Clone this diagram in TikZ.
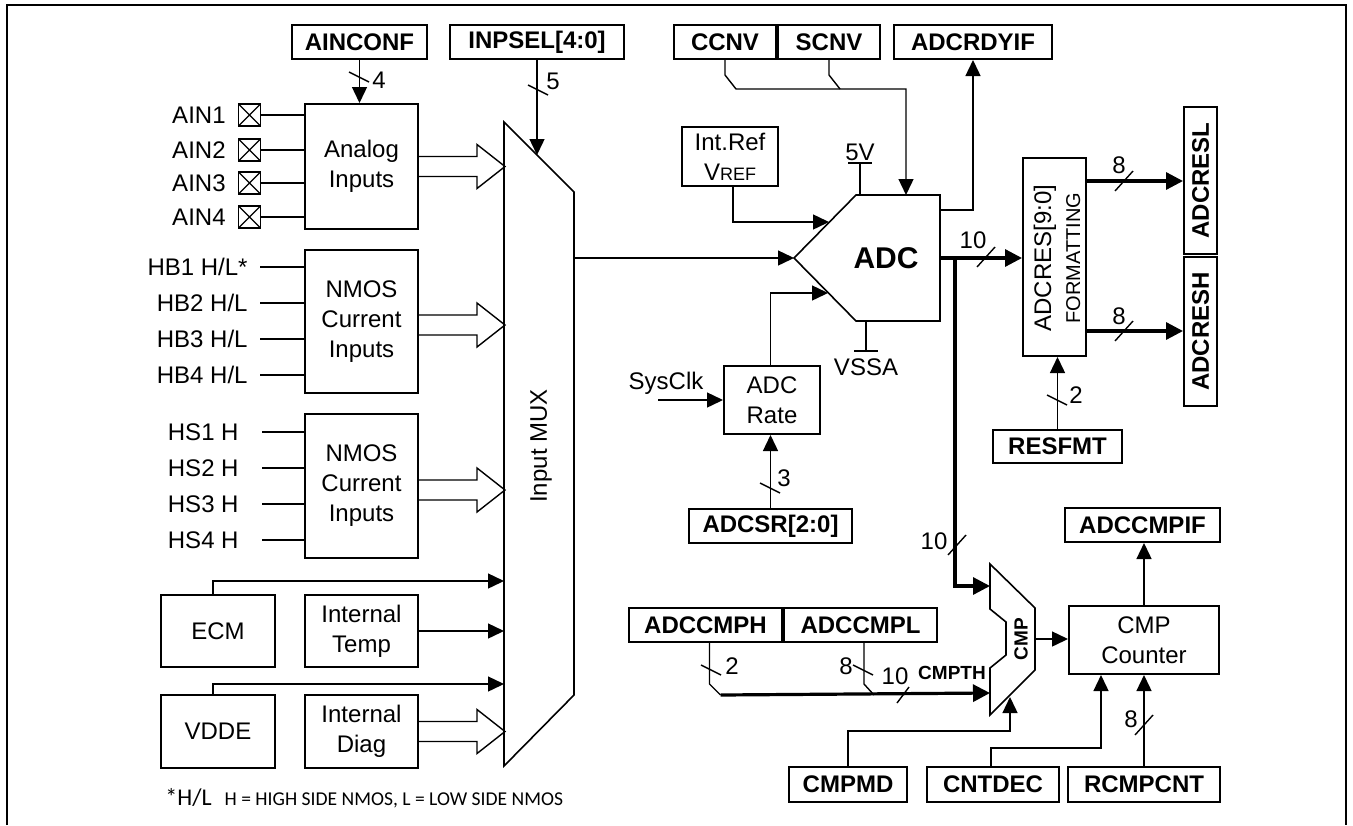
\documentclass[tikz,border=0pt]{standalone}
\usepackage{fontspec}
\setmainfont{Liberation Sans}
\newfontfamily\notefont{Carlito}
\usepackage{tikz}
\usetikzlibrary{arrows.meta, positioning, calc}

% hollow bus arrow from a block into the mux
\newcommand{\widearrow}[2]{%
  \draw[wire] ($(#1.east)+(0,#2-10)$) -- ++(58,0) -- ++(0,-12)
    -- ($(#1.east)+(86,#2)$) -- ++(-28,22) -- ++(0,-12) -- ($(#1.east)+(0,#2+10)$);}
% bus width marks
\newcommand{\busback}[1]{\draw[wire] ($#1+(-10,-5)$) -- ($#1+(10,5)$);}
\newcommand{\busfwd}[1]{\draw[wire] ($#1+(-9,10)$) -- ($#1+(9,-10)$);}

\begin{document}
\begin{tikzpicture}[x=0.5pt, y=-0.5pt,
    wire/.style={line width=0.7pt},
    bus/.style={line width=1.6pt},
    arrow/.style={wire, -{Triangle[length=8pt, width=7.5pt]}},
    busarrow/.style={bus, -{Triangle[length=8.5pt, width=8.5pt]}},
    block/.style={draw, line width=1pt, inner sep=0pt, align=center, font=\fontsize{12}{15}\selectfont},
    reg/.style={block, minimum height=17pt, font=\fontsize{12}{14}\selectfont\bfseries},
    lbl/.style={inner sep=0pt, font=\fontsize{12}{14}\selectfont},
    pin/.style={draw, line width=0.8pt, minimum size=11pt, inner sep=0pt,
        path picture={\draw[line width=0.6pt] (path picture bounding box.north west) -- (path picture bounding box.south east)
            (path picture bounding box.south west) -- (path picture bounding box.north east);}}
]
    \useasboundingbox (0,0) rectangle (1353,825);
    % Frame
    \draw[line width=1.2pt] (7,825) -- (7,5) -- (1346,5) -- (1346,825);

    % Registers on top
    \node[reg, minimum width=67.5pt] (ainconf) at (359.5,42) {AINCONF};
    \node[reg, minimum width=87pt] (inpsel) at (537,42) {INPSEL[4:0]};
    \node[reg, minimum width=51pt] (ccnv) at (725,42) {CCNV};
    \node[reg, minimum width=51pt, right=0pt of ccnv] (scnv) {SCNV};
    \node[reg, minimum width=79pt] (rdyif) at (973,42) {ADCRDYIF};

    % Input blocks
    \node[block, minimum width=56.5pt, minimum height=62.5pt] (ana) at (361.5,166.5) {Analog\\Inputs};
    \node[block, minimum width=56.5pt, minimum height=71.5pt] (nmb) at (361.5,321.5) {NMOS\\Current\\Inputs};
    \node[block, minimum width=56.5pt, minimum height=72pt] (nms) at (361.5,486) {NMOS\\Current\\Inputs};
    \node[block, minimum width=57pt, minimum height=36pt] (ecm) at (218,631) {ECM};
    \node[block, minimum width=56.5pt, minimum height=36pt] (temp) at (361.5,631) {Internal\\Temp};
    \node[block, minimum width=57pt, minimum height=36.5pt] (vdde) at (218,731.5) {VDDE};
    \node[block, minimum width=56.5pt, minimum height=36.5pt] (diag) at (361.5,731.5) {Internal\\Diag};

    % Pins and input lines
    \foreach \i/\y in {1/115, 2/150, 3/183, 4/217} {
        \node[lbl, anchor=east] (ainl\i) at (226,\y) {AIN\i};
        \node[pin] (ain\i) at (249.5,\y) {};
        \draw[wire] (ain\i.east) -- (ain\i -| ana.west);
    }
    \foreach \i/\y in {1/267, 2/303, 3/339, 4/375} {
        \node[lbl, anchor=east] (hbl\i) at (248,\y) {HB\i\ H/L\ifnum\i=1 *\fi};
        \coordinate (hb\i) at (260,\y);
        \draw[wire] (hb\i) -- (hb\i -| nmb.west);
    }
    \foreach \i/\y in {1/432, 2/468, 3/504, 4/540} {
        \node[lbl, anchor=east] (hsl\i) at (239,\y) {HS\i\ H};
        \coordinate (hs\i) at (262,\y);
        \draw[wire] (hs\i) -- (hs\i -| nms.west);
    }

    % Input MUX
    \coordinate (mux-nw) at (504,122);
    \coordinate (mux-ne) at (574,192);
    \coordinate (mux-se) at (574,695);
    \coordinate (mux-sw) at (504,766);
    \draw[line width=0.8pt] (mux-nw) -- (mux-ne) -- (mux-se) -- (mux-sw) -- cycle;
    \node[lbl, rotate=90] (muxlbl) at (541,446) {Input MUX};

    \widearrow{ana}{0}
    \widearrow{nmb}{3.5}
    \widearrow{nms}{4}
    \widearrow{diag}{0}

    \coordinate (ecm-in) at (504,581);
    \coordinate (vdde-in) at (504,684);
    \draw[arrow] ([xshift=-2.5pt]ecm.north) |- (ecm-in);
    \draw[arrow] (temp.east) -- (temp.east -| mux-nw);
    \draw[arrow] ([xshift=-2.5pt]vdde.north) |- (vdde-in);

    \draw[arrow] (ainconf.south) -- (ainconf.south |- ana.north);
    \busback{(359,77)}
    \node[lbl] (n4) at (379,80) {4};
    \coordinate (sel-in) at (537,155);
    \draw[arrow] (inpsel.south) -- (sel-in);
    \busback{(538,90)}
    \node[lbl] (n5) at (553,81) {5};

    % ADC
    \coordinate (adc-w) at (794,258);
    \coordinate (adc-nw) at (856,195);
    \coordinate (adc-ne) at (940,195);
    \coordinate (adc-se) at (940,321);
    \coordinate (adc-sw) at (856,321);
    \draw[line width=0.8pt] (adc-w) -- (adc-nw) -- (adc-ne) -- (adc-se) -- (adc-sw) -- cycle;
    \node[inner sep=0pt, font=\fontsize{15}{18}\selectfont\bfseries] (adclbl) at (886,258) {ADC};
    \draw[arrow] (adc-w -| mux-ne) -- (adc-w);

    \node[block, minimum width=48pt, minimum height=29.5pt] (iref) at (730,156.5) {Int.Ref\\V{\fontsize{9}{10}\selectfont REF}};
    \coordinate (adc-ref) at (829,222);
    \draw[arrow] ([xshift=1.5pt]iref.south) |- (adc-ref);

    \coordinate (vdd) at (860,163);
    \draw[wire] (vdd |- adc-ne) -- (vdd);
    \draw[wire] ([xshift=-6pt]vdd) -- ([xshift=6pt]vdd);
    \node[lbl, above=1pt of vdd] (vddlbl) {5V};
    \coordinate (vss) at (866,351);
    \draw[wire] (vss |- adc-se) -- (vss);
    \draw[wire] ([xshift=-6pt]vss) -- ([xshift=6pt]vss);
    \node[lbl, below=3.5pt of vss] (vsslbl) {VSSA};

    \coordinate (adc-cnv) at (906,195);
    \draw[arrow] (ccnv.south) -- ++(0,15) -- ++(11,14) -| (adc-cnv);
    \draw[wire] (scnv.south) -- ++(0,15) -- ++(11,14);
    \coordinate (adc-rdy) at (940,210);
    \draw[arrow] (adc-rdy) -| (rdyif.south);

    % ADC rate
    \node[block, minimum width=48pt, minimum height=34pt] (rate) at (772,400) {ADC\\Rate};
    \node[reg, minimum width=81.5pt] (adcsr) at (770.5,526) {ADCSR[2:0]};
    \node[lbl] (clk) at (666,383) {SysClk};
    \coordinate (clk-in) at (658,400);
    \draw[arrow] (clk-in) -- (clk-in -| rate.west);
    \coordinate (adc-clk) at (828,293);
    \draw[arrow] ([xshift=-0.75pt]rate.north) |- (adc-clk);
    \draw[arrow] (adcsr.north) -- (adcsr.north |- rate.south);
    \busback{(770,488)}
    \node[lbl] (n3) at (784,478) {3};

    % Result formatting
    \node[block, minimum width=31.5pt, minimum height=99pt] (res) at (1054.5,257) {};
    \node[lbl, rotate=90, align=center, font=\fontsize{12}{14.5}\selectfont] (reslbl) at (1057,258) {ADCRES[9:0]\\{\fontsize{10}{12}\selectfont FORMATTING}};
    \node[block, minimum width=16.5pt, minimum height=73.5pt] (resl) at (1200.5,180.5) {};
    \node[lbl, rotate=90, font=\fontsize{12}{14}\selectfont\bfseries] (resltxt) at (resl) {ADCRESL};
    \node[block, minimum width=16.5pt, minimum height=74.5pt] (resh) at (1200.5,331.5) {};
    \node[lbl, rotate=90, font=\fontsize{12}{14}\selectfont\bfseries] (reshtxt) at (resh) {ADCRESH};

    \coordinate (adc-out) at (940,258);
    \draw[busarrow] (adc-out) -- (adc-out -| res.west);
    \busfwd{(986,257)}
    \node[lbl] (n10a) at (973,240) {10};
    \coordinate (res-l) at (1086,181);
    \coordinate (res-h) at (1086,331);
    \draw[busarrow] (res-l) -- (res-l -| resl.west);
    \draw[busarrow] (res-h) -- (res-h -| resh.west);
    \busfwd{(1124,181)}
    \node[lbl] (n8a) at (1119,165) {8};
    \busfwd{(1124,331)}
    \node[lbl] (n8b) at (1119,316) {8};

    \node[reg, minimum width=64.5pt, minimum height=16.5pt] (resfmt) at (1057.5,446.5) {RESFMT};
    \draw[arrow] (resfmt.north) -- (resfmt.north |- res.south);
    \busback{(1057,400)}
    \node[lbl] (n2a) at (1076,395) {2};

    % Comparator
    \coordinate (tap) at (955,258);
    \coordinate (cmp-in) at (990,586);
    \draw[busarrow] (tap) |- (cmp-in);
    \busfwd{(957,545)}
    \node[lbl] (n10b) at (934,541) {10};
    \draw[line width=0.8pt] (990,564) -- (1035,608) -- (1035,670) -- (990,715) -- (990,668)
        -- (1006,655) -- (1006,622) -- (990,609) -- cycle;
    \node[rotate=90, inner sep=0pt, font=\fontsize{9.5}{11}\selectfont\bfseries] (cmplbl) at (1021,639) {CMP};

    \node[block, minimum width=75pt, minimum height=34pt] (cnt) at (1144,640) {CMP\\Counter};
    \node[reg, minimum width=77.5pt] (cmpif) at (1142.5,525) {ADCCMPIF};
    \coordinate (cmp-out) at (1035,639);
    \draw[arrow] (cmp-out) -- (cmp-out -| cnt.west);
    \draw[arrow] (cnt.north) -- (cnt.north |- cmpif.south);

    % Threshold registers
    \node[reg, minimum width=76.5pt] (cmph) at (705.5,625) {ADCCMPH};
    \node[reg, minimum width=76.5pt, right=0pt of cmph] (cmpl) {ADCCMPL};
    \coordinate (cmp-th) at (990,693);
    \draw[wire] ([xshift=2pt]cmph.south) -- ++(0,41) -- ++(11,11) coordinate (th-h);
    \draw[wire] ([xshift=1.75pt]cmpl.south) -- ++(0,41) -- ++(10,11);
    \draw[busarrow] (th-h) -- (cmp-th);
    \busback{(711,670)}
    \node[lbl] (n2b) at (732,666) {2};
    \busback{(863,670)}
    \node[lbl] (n8c) at (846,666) {8};
    \draw[wire] (897,703) -- (909,687);
    \node[lbl] (n10c) at (895,676) {10};
    \node[inner sep=0pt, font=\fontsize{9.5}{11}\selectfont\bfseries] (cmpth) at (952,673) {CMPTH};

    % Bottom controls
    \node[reg, minimum width=59pt, minimum height=17.5pt] (cmpmd) at (848,784.5) {CMPMD};
    \node[reg, minimum width=66pt, minimum height=17.5pt] (cntdec) at (993,784.5) {CNTDEC};
    \node[reg, minimum width=76pt, minimum height=17.5pt] (rcnt) at (1144,784.5) {RCMPCNT};
    \coordinate (cmp-md) at (1010,697);
    \draw[arrow] (cmpmd.north) -- ++(0,-35) -| (cmp-md);
    \draw[arrow] ([xshift=-1pt]cntdec.north) -- ++(0,-18) -| ([xshift=-21.5pt]cnt.south);
    \draw[arrow] (rcnt.north) -- (cnt.south);
    \busfwd{(1144,725)}
    \node[lbl] (n8d) at (1131,719) {8};

    % Footnote
    \node[anchor=west, inner sep=0pt] (note) at (165,798) {\notefont\fontsize{12}{14}\selectfont *H/L\hspace{6.5pt}\fontsize{9.8}{12}\selectfont H = HIGH SIDE NMOS, L = LOW SIDE NMOS};
\end{tikzpicture}
\end{document}
